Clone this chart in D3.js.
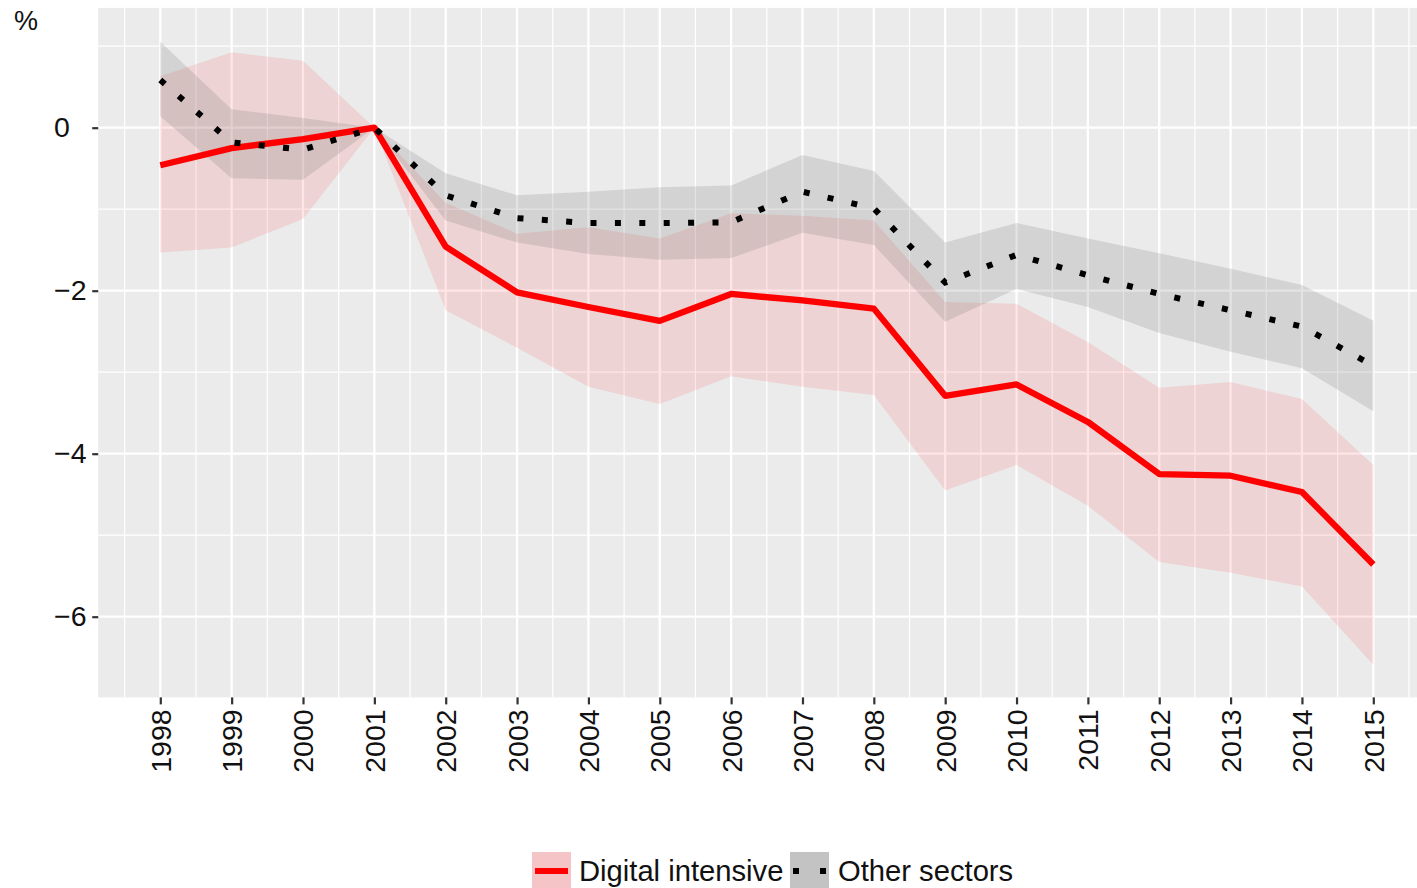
<!DOCTYPE html>
<html>
<head>
<meta charset="utf-8">
<script src="https://cdn.jsdelivr.net/npm/d3@7"></script>
<style>
  body { margin: 0; background: #fff; }
  text { font-family: "Liberation Sans", Arial, sans-serif; }
</style>
</head>
<body>
<div id="lineChart"></div>
<script>
// Data (percent, 2001 = 0)
var years = [1998, 1999, 2000, 2001, 2002, 2003, 2004, 2005, 2006, 2007, 2008, 2009, 2010, 2011, 2012, 2013, 2014, 2015];

var digital   = [-0.46, -0.25, -0.14, 0, -1.46, -2.02, -2.20, -2.37, -2.04, -2.12, -2.22, -3.29, -3.15, -3.61, -4.25, -4.27, -4.47, -5.36];
var digitalLo = [-1.53, -1.47, -1.12, 0, -2.24, -2.70, -3.18, -3.39, -3.05, -3.18, -3.28, -4.45, -4.14, -4.64, -5.33, -5.46, -5.63, -6.59];
var digitalHi = [0.63, 0.925, 0.82, 0, -0.92, -1.30, -1.22, -1.36, -1.05, -1.08, -1.14, -2.14, -2.16, -2.63, -3.19, -3.12, -3.33, -4.14];

var other   = [0.585, -0.18, -0.27, 0, -0.83, -1.11, -1.17, -1.17, -1.16, -0.785, -0.99, -1.90, -1.56, -1.81, -2.04, -2.24, -2.44, -2.92];
var otherLo = [0.14, -0.62, -0.64, 0, -1.14, -1.41, -1.55, -1.62, -1.60, -1.29, -1.44, -2.38, -1.98, -2.20, -2.52, -2.75, -2.95, -3.48];
var otherHi = [1.055, 0.225, 0.12, 0, -0.56, -0.83, -0.785, -0.73, -0.71, -0.335, -0.53, -1.41, -1.17, -1.36, -1.54, -1.73, -1.93, -2.37];

var yTicks = [0, -2, -4, -6];
var yMinor = [1, -1, -3, -5];
var seriesNames = ["Digital intensive", "Other sectors"];

var width = 1417, height = 888;

// Scales
var x = d3.scaleLinear().domain([1998, 2015]).range([160.3, 1373.3]);
var y = d3.scaleLinear().domain([0, -6]).range([127.7, 616.7]);

var xMin = 1997.13, xMax = 2015.85, yMax = 1.47, yMin = -6.99;

var svg = d3.select("#lineChart").append("svg")
    .attr("width", width)
    .attr("height", height);

// Panel background
svg.append("rect")
    .attr("x", x(xMin))
    .attr("y", y(yMax))
    .attr("width", x(xMax) - x(xMin))
    .attr("height", y(yMin) - y(yMax))
    .attr("fill", "#EBEBEB");

var grid = svg.append("g");

// minor gridlines
grid.selectAll(".ymin").data(yMinor).enter().append("line")
    .attr("x1", x(xMin)).attr("x2", x(xMax))
    .attr("y1", function(d) { return y(d); }).attr("y2", function(d) { return y(d); })
    .attr("stroke", "#fff").attr("stroke-width", 1.2);

var halfYears = years.map(function(d) { return d - 0.5; }).concat([2015.5]);
grid.selectAll(".xmin").data(halfYears).enter().append("line")
    .attr("x1", function(d) { return x(d); }).attr("x2", function(d) { return x(d); })
    .attr("y1", y(yMax)).attr("y2", y(yMin))
    .attr("stroke", "#fff").attr("stroke-width", 1.2);

// major gridlines
grid.selectAll(".ymaj").data(yTicks).enter().append("line")
    .attr("x1", x(xMin)).attr("x2", x(xMax))
    .attr("y1", function(d) { return y(d); }).attr("y2", function(d) { return y(d); })
    .attr("stroke", "#fff").attr("stroke-width", 2.3);

grid.selectAll(".xmaj").data(years).enter().append("line")
    .attr("x1", function(d) { return x(d); }).attr("x2", function(d) { return x(d); })
    .attr("y1", y(yMax)).attr("y2", y(yMin))
    .attr("stroke", "#fff").attr("stroke-width", 2.3);

// Ribbons
var band = function(lo, hi) {
    return d3.area()
        .x(function(d, i) { return x(years[i]); })
        .y0(function(d, i) { return y(lo[i]); })
        .y1(function(d, i) { return y(hi[i]); });
};

svg.append("path")
    .datum(years)
    .attr("d", band(digitalLo, digitalHi))
    .attr("fill", "#ff0000")
    .attr("fill-opacity", 0.1);

svg.append("path")
    .datum(years)
    .attr("d", band(otherLo, otherHi))
    .attr("fill", "#7f7f7f")
    .attr("fill-opacity", 0.22);

// Lines
var line = function(vals) {
    return d3.line()
        .x(function(d, i) { return x(years[i]); })
        .y(function(d, i) { return y(vals[i]); });
};

svg.append("path")
    .datum(years)
    .attr("d", line(digital))
    .attr("fill", "none")
    .attr("stroke", "#ff0000")
    .attr("stroke-width", 6.3)
    .attr("stroke-linejoin", "round");

svg.append("path")
    .datum(years)
    .attr("d", line(other))
    .attr("fill", "none")
    .attr("stroke", "#000")
    .attr("stroke-width", 6)
    .attr("stroke-dasharray", "6 18.4");

// Axes
var yAxis = svg.append("g")
    .attr("transform", "translate(" + x(xMin) + ",0)")
    .call(d3.axisLeft(y).tickValues(yTicks).tickSize(6).tickPadding(8)
        .tickFormat(function(d) { return d < 0 ? "\u2212" + Math.abs(d) : d; }));
yAxis.select(".domain").remove();
yAxis.selectAll(".tick line").attr("stroke", "#333").attr("stroke-width", 2.2);
yAxis.selectAll(".tick text")
    .attr("x", 54 - x(xMin))
    .attr("text-anchor", "start")
    .attr("font-family", "Liberation Sans, Arial, sans-serif")
    .attr("font-size", 28.5)
    .attr("fill", "#111");

var xAxis = svg.append("g")
    .attr("transform", "translate(0," + y(yMin) + ")")
    .call(d3.axisBottom(x).tickValues(years).tickSize(7).tickFormat(d3.format("d")));
xAxis.select(".domain").remove();
xAxis.selectAll(".tick line").attr("stroke", "#333").attr("stroke-width", 2.2);
xAxis.selectAll(".tick text")
    .attr("transform", "rotate(-90)")
    .attr("text-anchor", "end")
    .attr("x", -12)
    .attr("y", 0)
    .attr("dy", "0.35em")
    .attr("font-family", "Liberation Sans, Arial, sans-serif")
    .attr("font-size", 28.5)
    .attr("fill", "#111");

// "%" label
svg.append("text")
    .attr("x", 14)
    .attr("y", 30)
    .attr("font-size", 27)
    .attr("fill", "#111")
    .text("%");

// Legend
var legend = svg.append("g");
var keyY = 852, keyH = 40;

legend.append("rect")
    .attr("x", 532).attr("y", keyY).attr("width", 39).attr("height", keyH)
    .attr("fill", "#F5C4C6");
legend.append("line")
    .attr("x1", 535).attr("x2", 568).attr("y1", keyY + 19).attr("y2", keyY + 19)
    .attr("stroke", "#ff0000").attr("stroke-width", 6);
legend.append("text")
    .attr("x", 579).attr("y", keyY + 19).attr("dy", "0.35em")
    .attr("font-size", 29.2).attr("fill", "#111")
    .text(seriesNames[0]);

legend.append("rect")
    .attr("x", 790).attr("y", keyY).attr("width", 39).attr("height", keyH)
    .attr("fill", "#C3C3C3");
legend.append("line")
    .attr("x1", 793).attr("x2", 827).attr("y1", keyY + 19).attr("y2", keyY + 19)
    .attr("stroke", "#000").attr("stroke-width", 6)
    .attr("stroke-dasharray", "6 21");
legend.append("text")
    .attr("x", 838).attr("y", keyY + 19).attr("dy", "0.35em")
    .attr("font-size", 29.2).attr("fill", "#111")
    .text(seriesNames[1]);
</script>
</body>
</html>
